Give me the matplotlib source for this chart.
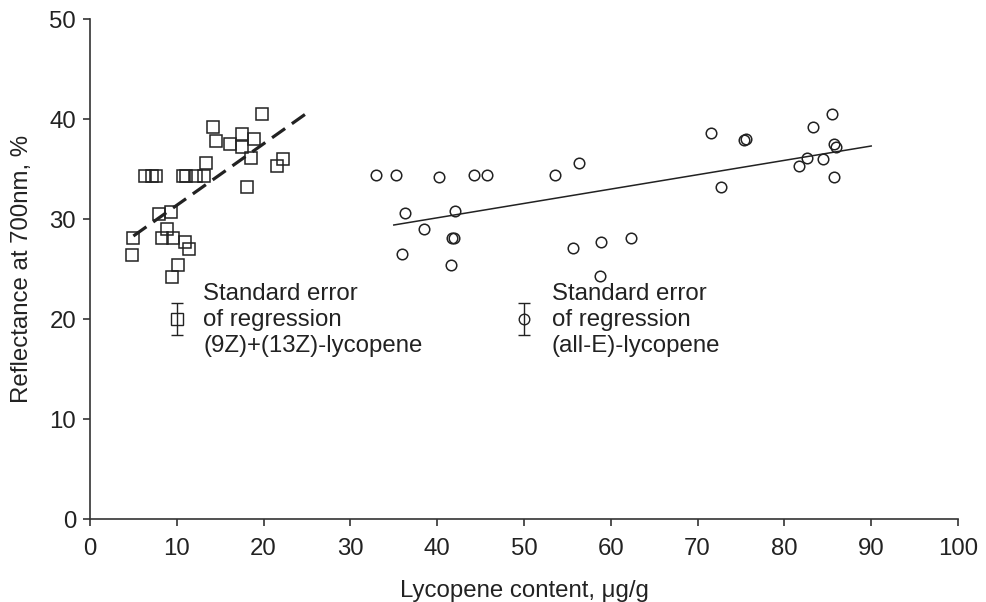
import matplotlib
matplotlib.use("Agg")
import matplotlib.pyplot as plt
import numpy as np

plt.rcParams['font.family'] = ['Liberation Sans', 'DejaVu Sans']

# (9Z)+(13Z)-lycopene (squares)
z_x = [19.8, 14.2, 14.5, 16.1, 17.5, 17.5, 18.9, 18.5, 22.2, 21.5, 13.4, 18.1,
       6.3, 7.1, 7.6, 10.7, 11.1, 12.2, 13.1,
       8.0, 9.3, 8.9, 5.0, 8.3, 9.6, 10.9, 11.4, 4.8, 10.1, 9.5]
z_y = [40.5, 39.2, 37.8, 37.5, 38.5, 37.2, 38.0, 36.1, 36.0, 35.3, 35.6, 33.2,
       34.3, 34.3, 34.3, 34.3, 34.3, 34.3, 34.3,
       30.5, 30.7, 29.0, 28.1, 28.1, 28.1, 27.7, 27.0, 26.4, 25.4, 24.2]

# (all-E)-lycopene (circles)
e_x = [32.9, 35.2, 40.2, 44.2, 45.7, 53.6, 56.3, 36.3, 42.0, 38.5, 41.7, 41.9,
       35.9, 41.6, 55.6, 58.9, 62.3, 58.8, 71.5, 75.4, 75.6, 72.7, 85.5, 83.3,
       85.7, 86.0, 82.6, 84.4, 81.7, 85.7]
e_y = [34.4, 34.4, 34.2, 34.4, 34.4, 34.4, 35.6, 30.6, 30.8, 29.0, 28.1, 28.1,
       26.5, 25.4, 27.1, 27.7, 28.1, 24.3, 38.6, 37.9, 38.0, 33.2, 40.5, 39.2,
       37.5, 37.2, 36.1, 36.0, 35.3, 34.2]

# regression lines (end points)
z_line_x = [5.0, 25.0]
z_line_y = [28.3, 40.6]
e_line_x = [35.0, 90.0]
e_line_y = [29.4, 37.3]

# standard error markers
se_z = (10.0, 20.0, 1.6)
se_e = (50.0, 20.0, 1.6)

xticks = [0, 10, 20, 30, 40, 50, 60, 70, 80, 90, 100]
yticks = [0, 10, 20, 30, 40, 50]

ink = '#222222'
fs = 17.3

fig = plt.figure(figsize=(9.86, 6.02), dpi=100)
ax = fig.add_axes([90/986, 1 - 519/602, (958-90)/986, (519-19)/602])

ax.plot(z_x, z_y, linestyle='none', marker='s', ms=8.2, mfc='none',
        mec=ink, mew=1.1, zorder=3)
ax.plot(e_x, e_y, linestyle='none', marker='o', ms=7.6, mfc='none',
        mec=ink, mew=1.1, zorder=3)

ax.plot(z_line_x, z_line_y, color=ink, lw=2.3, dashes=(5, 2.6), zorder=2)
ax.plot(e_line_x, e_line_y, color=ink, lw=1.1, zorder=2)

ax.errorbar([se_z[0]], [se_z[1]], yerr=[se_z[2]], fmt='s', ms=8.2, mfc='none',
            mec=ink, mew=1.0, ecolor=ink, elinewidth=1.0, capsize=4.5, capthick=1.0)
ax.errorbar([se_e[0]], [se_e[1]], yerr=[se_e[2]], fmt='o', ms=7.6, mfc='none',
            mec=ink, mew=1.0, ecolor=ink, elinewidth=1.0, capsize=4.5, capthick=1.0)

ax.text(13.05, 19.9, "Standard error\nof regression\n(9Z)+(13Z)-lycopene",
        fontsize=fs, color=ink, ha='left', va='center', linespacing=1.22)
ax.text(53.2, 19.9, "Standard error\nof regression\n(all-E)-lycopene",
        fontsize=fs, color=ink, ha='left', va='center', linespacing=1.22)

ax.set_xlim(0, 100)
ax.set_ylim(0, 50)
ax.set_xticks(xticks)
ax.set_yticks(yticks)
ax.spines['top'].set_visible(False)
ax.spines['right'].set_visible(False)
for s in ['left', 'bottom']:
    ax.spines[s].set_color('#333333')
    ax.spines[s].set_linewidth(1.2)
ax.tick_params(axis='both', direction='out', length=5, width=1.2,
               colors='#333333', labelcolor=ink, labelsize=fs)
ax.tick_params(axis='x', pad=9)
ax.tick_params(axis='y', pad=5)

ax.set_xlabel("Lycopene content, μg/g", fontsize=fs, color=ink, labelpad=14)
ax.set_ylabel("Reflectance at 700nm, %", fontsize=fs, color=ink, labelpad=12)

fig.savefig("out.png", dpi=100)
